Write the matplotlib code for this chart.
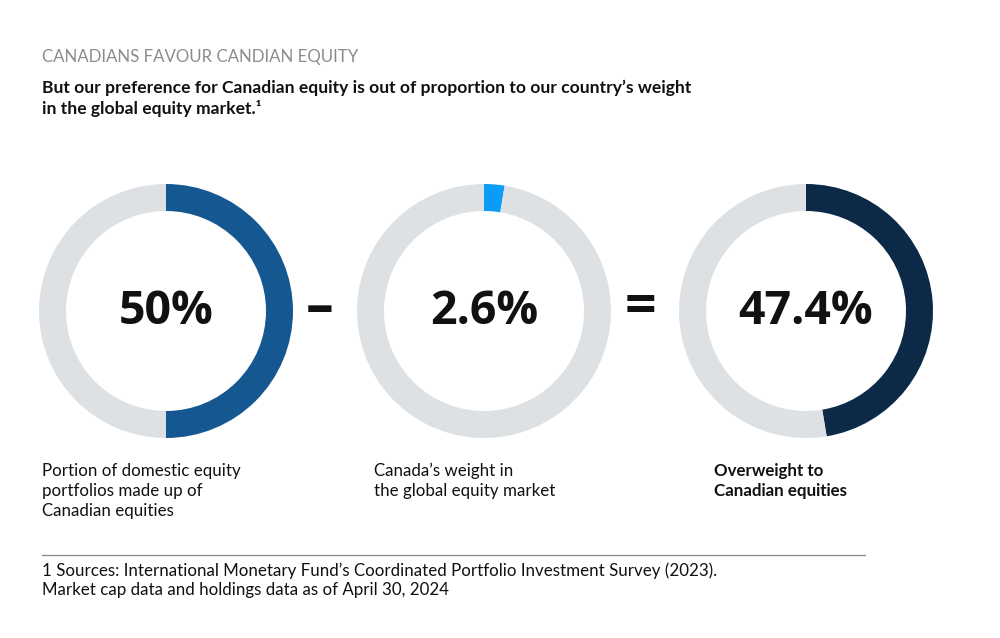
import matplotlib.pyplot as plt

plt.rcParams['font.family'] = ['Lato', 'DejaVu Sans']

# datos
valores = [50.0, 2.6, 47.4]
etiquetas_centro = ['50%', '2.6%', '47.4%']
colores = ['#155891', '#0a9cf7', '#0c2a47']
descripciones = [
    'Portion of domestic equity\nportfolios made up of\nCanadian equities',
    'Canada\u2019s weight in\nthe global equity market',
    'Overweight to\nCanadian equities',
]
operadores = ['\u2013', '=']

titulo = 'CANADIANS FAVOUR CANDIAN EQUITY'
subtitulo = ('But our preference for Canadian equity is out of proportion to our country\u2019s weight\n'
             'in the global equity market.\u00b9')
nota = ('1 Sources: International Monetary Fund\u2019s Coordinated Portfolio Investment Survey (2023).\n'
        'Market cap data and holdings data as of April 30, 2024')

W, H = 1000, 638
fig = plt.figure(figsize=(W / 100, H / 100), dpi=100)
ax = fig.add_axes([0, 0, 1, 1])

centros_x = [166, 484, 806]
cy = H - 311
gris = '#dee1e4'
fuente_num = ['Open Sans', 'DejaVu Sans']

for cx, v, c, lab in zip(centros_x, valores, colores, etiquetas_centro):
    ax.pie([v, 100 - v], colors=[c, gris], startangle=90, counterclock=False,
           center=(cx, cy), radius=127, wedgeprops=dict(width=27, linewidth=0))
    ax.text(cx, cy, lab, ha='center', va='center', fontsize=33.5, fontweight='bold',
            color='#111111', family=fuente_num)

for x, op in zip([320, 640], operadores):
    ax.text(x, cy + 2, op, ha='center', va='center', fontsize=40, fontweight='bold',
            color='#111111', family=fuente_num)

ax.set_xlim(0, W)
ax.set_ylim(0, H)
ax.set_aspect('equal')
ax.axis('off')

ax.text(42, H - 57, titulo, fontsize=12.2, color='#8c8c8c', va='center')
ax.text(42, H - 80, subtitulo, fontsize=12.6, fontweight='bold', color='#111111', va='top',
        linespacing=1.25)

for x, d, i in zip([42, 374, 714], descripciones, range(3)):
    ax.text(x, H - 463, d, fontsize=12.2, color='#111111', va='top', linespacing=1.3,
            fontweight='bold' if i == 2 else 'normal')

ax.plot([42, 865], [H - 555, H - 555], color='#8a8a8a', linewidth=0.9)
ax.text(42, H - 562, nota, fontsize=12.2, color='#111111', va='top', linespacing=1.3)

fig.savefig('out.png', dpi=100)
